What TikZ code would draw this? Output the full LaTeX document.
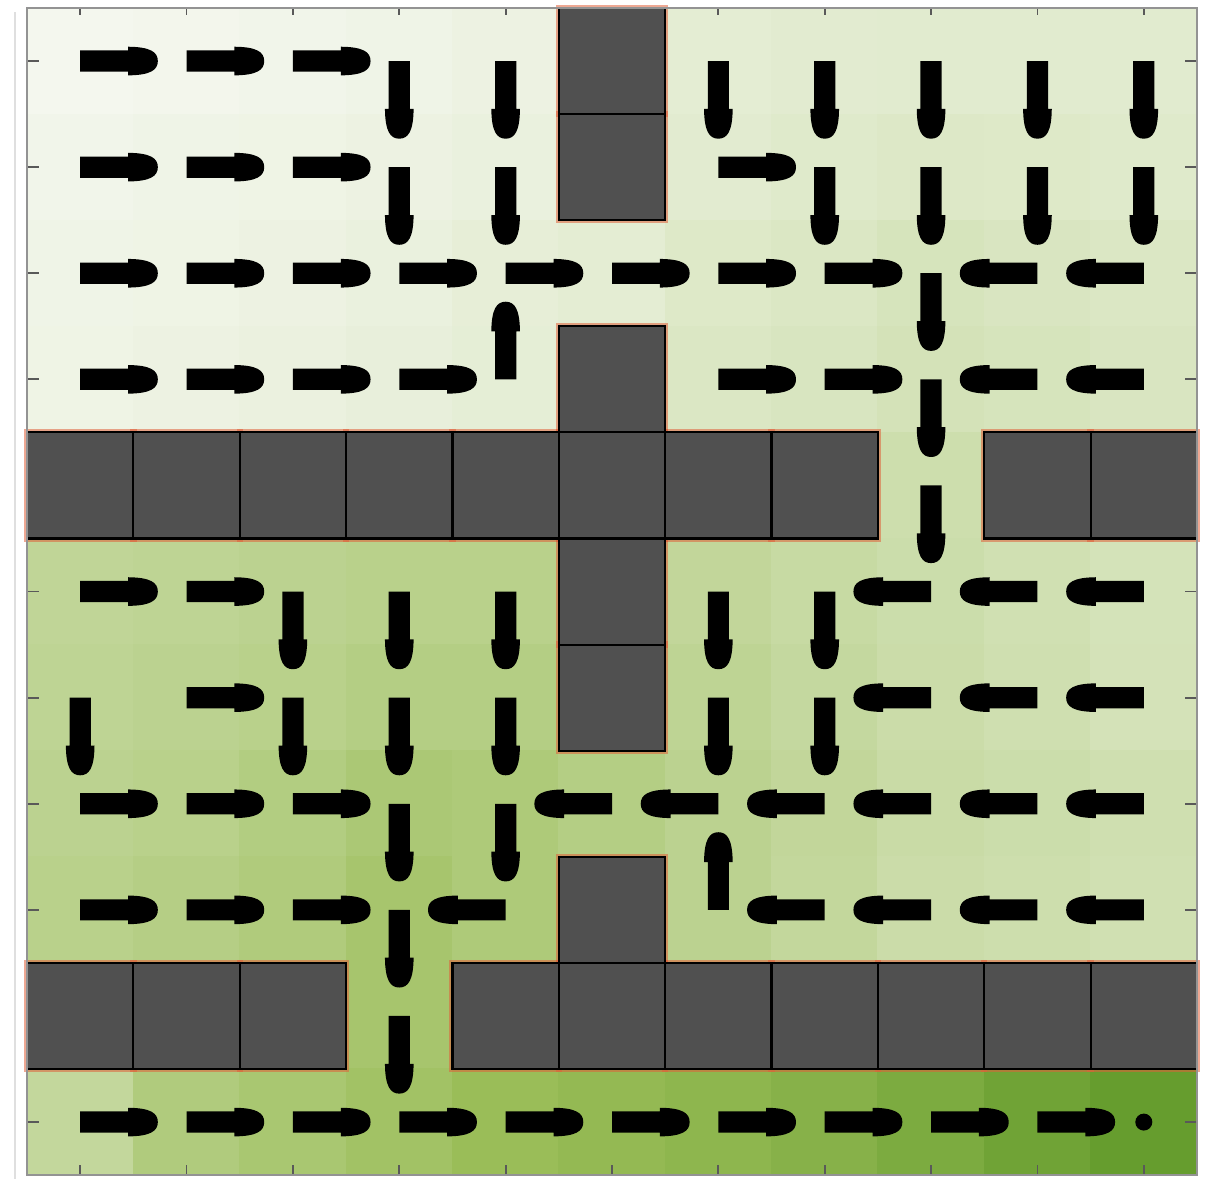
\documentclass[tikz,border=0pt]{standalone}

\definecolor{vlow}{HTML}{F4F7EE}
\definecolor{vmid}{HTML}{9ABD58}
\definecolor{vhigh}{HTML}{5E9828}
\definecolor{wallgray}{HTML}{505050}
\definecolor{wallred}{HTML}{E0603A}

\begin{document}
\begin{tikzpicture}[
 x=1.0636cm, y=-1.061cm,
 wall/.style={fill=wallgray,draw=black,line width=0.6pt},
 halo/.style={draw=wallred,opacity=0.55,line width=1.8pt},
 tick/.style={draw=gray!70!black,line width=0.5pt},
 frame/.style={draw=gray!85,line width=0.7pt},
 move/.pic={
  \fill[black] (0,-0.1) -- (0.45,-0.1) -- (0.45,-0.135)
   .. controls (0.66,-0.133) and (0.73,-0.085) .. (0.73,0)
   .. controls (0.73,0.085) and (0.66,0.133) .. (0.45,0.135)
   -- (0.45,0.1) -- (0,0.1) -- cycle;
 }
]
 \useasboundingbox (-0.2539,-0.0754) rectangle (11.160,11.037);

 % value of each cell
 \foreach \vals [count=\r from 0] in {
  {0,1,2,3,5,8,11,12,13,13,13},
  {2,3,4,5,7,9,12,14,16,15,14},
  {3,4,5,7,9,11,15,17,20,18,17},
  {4,5,6,8,10,13,17,19,22,20,18},
  {30,30,30,30,30,30,30,30,26,24,22},
  {35,36,38,40,40,38,34,30,27,24,21},
  {36,38,40,43,43,40,36,32,28,25,22},
  {38,40,44,49,47,43,38,34,29,27,25},
  {40,42,46,52,47,43,38,33,28,26,24},
  {38,44,48,52,58,62,66,70,76,84,92},
  {33,45,50,55,60,64,68,73,80,88,95}}{
  \foreach \v [count=\c from 0] in \vals {
   \ifnum\v<60
    \pgfmathtruncatemacro\p{\v*100/60}
    \colorlet{cellc}{vmid!\p!vlow}
   \else
    \pgfmathtruncatemacro\p{(\v-60)*100/40}
    \colorlet{cellc}{vhigh!\p!vmid}
   \fi
   \fill[cellc] (\c-0.005,\r-0.005) rectangle (\c+1.005,\r+1.005);
  }
 }

 % ticks
 \foreach \i in {0,...,10}{
  \draw[tick] (\i+.5,0) -- (\i+.5,0.07);
  \draw[tick] (\i+.5,11) -- (\i+.5,10.9);
  \draw[tick] (0,\i+.5) -- (0.11,\i+.5);
  \draw[tick] (11,\i+.5) -- (10.89,\i+.5);
 }

 % policy
 \foreach \line [count=\r from 0] in {
  {R,R,R,D,D,W,D,D,D,D,D},
  {R,R,R,D,D,W,R,D,D,D,D},
  {R,R,R,R,R,R,R,R,D,L,L},
  {R,R,R,R,U,W,R,R,D,L,L},
  {W,W,W,W,W,W,W,W,D,W,W},
  {R,R,D,D,D,W,D,D,L,L,L},
  {D,R,D,D,D,W,D,D,L,L,L},
  {R,R,R,D,D,L,L,L,L,L,L},
  {R,R,R,D,L,W,U,L,L,L,L},
  {W,W,W,D,W,W,W,W,W,W,W},
  {R,R,R,R,R,R,R,R,R,R,G}}{
  \foreach \a [count=\c from 0] in \line {
   \if R\a \pic[rotate=0] at (\c+.5,\r+.5) {move};\fi
   \if L\a \pic[rotate=180] at (\c+.5,\r+.5) {move};\fi
   \if U\a \pic[rotate=90] at (\c+.5,\r+.5) {move};\fi
   \if D\a \pic[rotate=-90] at (\c+.5,\r+.5) {move};\fi
   \if G\a \fill[black] (\c+.5,\r+.5) circle (0.08);\fi
  }
 }

 % walls
 \def\walls{5/0,5/1,5/3,0/4,1/4,2/4,3/4,4/4,5/4,6/4,7/4,9/4,10/4,
  5/5,5/6,5/8,0/9,1/9,2/9,4/9,5/9,6/9,7/9,8/9,9/9,10/9}
 \foreach \c/\r in \walls
  \draw[halo] (\c,\r) rectangle ++(1,1);
 \foreach \c/\r in \walls
  \filldraw[wall] (\c,\r) rectangle ++(1,1);

 \draw[frame] (0,0) rectangle (11,11);
 \draw[gray!25,line width=0.8pt] (-0.113,0.04) -- (-0.113,11.04);
\end{tikzpicture}
\end{document}
